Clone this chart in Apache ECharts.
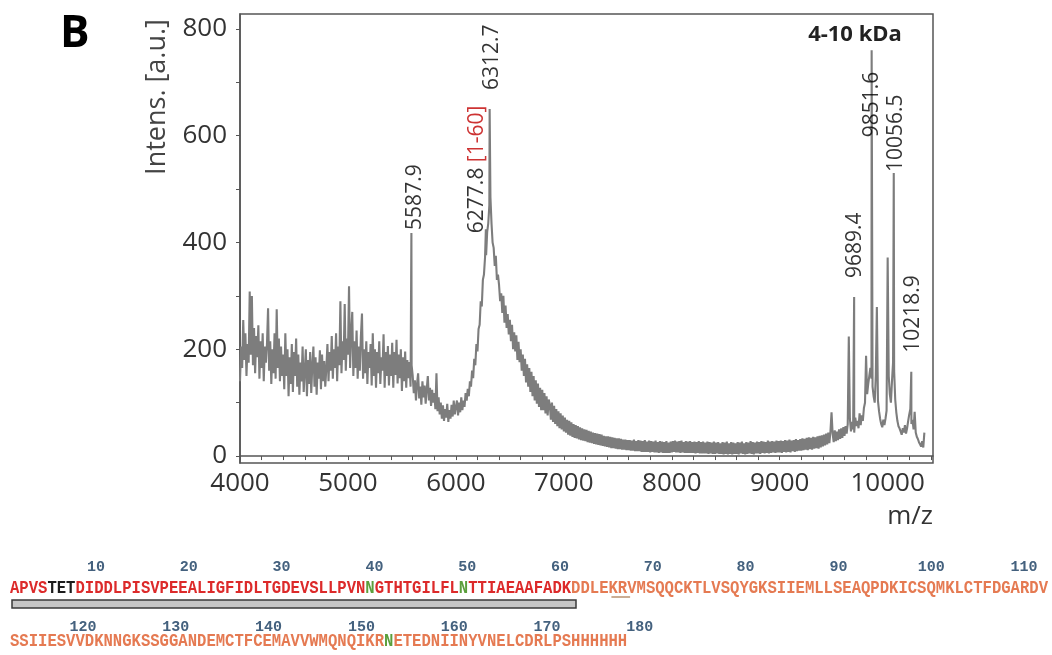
<!DOCTYPE html>
<html>
<head>
<meta charset="utf-8">
<script src="https://cdn.jsdelivr.net/npm/echarts@6/dist/echarts.min.js"></script>
<style>
  html, body { margin: 0; padding: 0; background: #fff; }
  #chart { width: 1052px; height: 655px; }
</style>
</head>
<body>
<div id="chart"></div>
<script>
// MALDI spectrum, 4-10 kDa window: intensity sampled every 10 Da from 4000 m/z
// (one row = 200 Da)
const specStart = 4000;
const specStep = 10;
const specIntensity = [
  140, 205, 165, 255, 180, 230, 150, 210, 175, 308, 190, 300, 170, 240, 155, 225, 185, 245, 145, 215,
  165, 230, 140, 205, 175, 210, 277, 160, 215, 135, 200, 155, 230, 145, 275, 165, 220, 140, 205, 150,
  190, 125, 230, 150, 200, 112, 185, 135, 210, 120, 195, 150, 220, 130, 190, 115, 175, 140, 205, 120,
  160, 200, 112, 180, 135, 195, 118, 170, 205, 130, 185, 115, 175, 145, 198, 125, 190, 140, 178, 130,
  165, 210, 140, 195, 160, 225, 145, 200, 165, 230, 140, 205, 170, 290, 155, 215, 180, 285, 160, 220,
  190, 318, 165, 230, 270, 150, 215, 165, 235, 145, 205, 160, 225, 267, 145, 200, 155, 215, 135, 195,
  165, 210, 132, 230, 150, 200, 128, 195, 155, 215, 135, 185, 160, 228, 128, 195, 150, 206, 132, 190,
  150, 212, 128, 195, 152, 218, 136, 190, 146, 200, 122, 185, 140, 196, 128, 180, 146, 176, 130, 170,
  150, 118, 142, 104, 135, 155, 108, 130, 96, 140, 110, 132, 98, 126, 150, 104, 128, 94, 124, 100,
  118, 88, 155, 84, 110, 78, 100, 70, 95, 66, 88, 72, 98, 64, 86, 70, 96, 74, 104, 78,
  92, 104, 76, 100, 82, 110, 86, 104, 92, 118, 104, 126, 112, 140, 130, 160, 146, 182, 170, 210,
  196, 238, 246, 290, 280, 330, 340, 372, 376, 420, 436, 470, 485, 436, 400, 390, 356, 375, 330, 340,
  320, 290, 305, 268, 300, 250, 282, 240, 266, 228, 255, 215, 246, 200, 232, 196, 226, 180, 214, 176,
  200, 160, 190, 150, 182, 138, 172, 130, 165, 120, 158, 112, 150, 104, 142, 98, 136, 92, 128, 86,
  124, 86, 118, 80, 112, 76, 106, 96, 68, 100, 64, 94, 60, 88, 56, 84, 52, 80, 50, 76,
  46, 72, 44, 68, 40, 66, 38, 63, 36, 60, 34, 58, 33, 56, 31, 54, 30, 52, 29, 50,
  28, 49, 26, 47, 25, 46, 24, 44, 23, 43, 22, 42, 21, 41, 20, 40, 19, 38, 18, 37,
  17, 37, 16, 36, 15, 35, 15, 34, 14, 33, 13, 33, 13, 32, 12, 31, 12, 31, 11, 30,
  11, 30, 10, 29, 10, 31, 9, 28, 9, 30, 9, 29, 8, 28, 8, 30, 8, 27, 8, 29,
  7, 28, 8, 27, 7, 29, 7, 26, 6, 28, 7, 27, 6, 26, 6, 28, 6, 25, 6, 27,
  7, 28, 8, 29, 7, 27, 7, 28, 6, 29, 7, 26, 6, 28, 6, 27, 6, 28, 6, 26,
  6, 27, 5, 26, 6, 28, 5, 26, 5, 27, 5, 25, 5, 27, 4, 26, 5, 25, 4, 27,
  4, 25, 5, 26, 4, 24, 4, 26, 3, 25, 4, 27, 3, 24, 4, 26, 3, 25, 4, 24,
  4, 26, 3, 25, 5, 27, 4, 24, 3, 26, 4, 25, 5, 28, 4, 26, 3, 25, 5, 27,
  5, 26, 4, 28, 6, 27, 5, 26, 6, 29, 5, 27, 6, 28, 7, 27, 6, 29, 7, 28,
  7, 29, 6, 28, 8, 30, 7, 29, 8, 31, 7, 29, 9, 30, 8, 32, 9, 30, 10, 32,
  10, 33, 11, 32, 12, 34, 11, 35, 13, 34, 12, 36, 14, 35, 15, 37, 14, 38, 16, 39,
  18, 40, 20, 42, 22, 44, 24, 46, 82, 42, 26, 48, 28, 46, 30, 50, 32, 52, 34, 54,
  38, 56, 42, 60, 224, 70, 46, 64, 50, 44, 72, 56, 66, 52, 80, 58, 76, 66, 90, 100,
  188, 116, 135, 150, 165, 145, 130, 112, 100, 150, 279, 104, 84, 70, 60, 54, 68, 58, 70, 85,
  372, 150, 116, 100, 140, 175, 160, 106, 82, 66, 56, 52, 46, 40, 52, 44, 58, 42, 52, 66,
  78, 88, 60, 68, 50, 83, 44, 36, 32, 26, 22, 18, 28, 16, 44
];

// annotated peaks
const peakMz = [5587.9, 6277.8, 6312.7, 9689.4, 9851.6, 10056.5, 10218.9];
const peakHeight = [418, 425, 650, 298, 760, 530, 158];
const peakTag = ['', '[1-60]', '', '', '', '', ''];

// axis labels
const xTickLabels = [4000, 5000, 6000, 7000, 8000, 9000, 10000];
const yTickLabels = [0, 200, 400, 600, 800];

// protein sequence, residues 1-111 and 112-177
const seqLine1 = 'APVSTETDIDDLPISVPEEALIGFIDLTGDEVSLLPVNNGTHTGILFLNTTIAEAAFADKDDLEKRVMSQQCKTLVSQYGKSIIEMLLSEAQPDKICSQMKLCTFDGARDV';
const seqLine2 = 'SSIIESVVDKNNGKSSGGANDEMCTFCEMAVVWMQNQIKRNETEDNIINYVNELCDRLPSHHHHHH';
const seqLine2Start = 112;
const fragmentEnd = 60;
const darkResidues = [5, 6, 7];
const glycoSites = [39, 49, 152];
const underlined = [65, 66];
const numbersLine1 = [10, 20, 30, 40, 50, 60, 70, 80, 90, 100, 110];
const numbersLine2 = [120, 130, 140, 150, 160, 170, 180];

// ---- build spectrum series data (grid samples + annotated peak apexes) ----
const spectrum = specIntensity.map((v, i) => [specStart + i * specStep, v]);
peakMz.forEach((mz, i) => spectrum.push([mz, peakHeight[i]]));
spectrum.sort((a, b) => a[0] - b[0]);

// label placement tweaks, in the rotated text frame: [along text (up), across (right)]
const labelNudge = [[3, 4], [-4, -9], [19, 2], [19, 1], [-87, 0], [1, 2], [19, 2]];
const peakPoints = peakMz.map((mz, i) => ({
  value: [mz, peakHeight[i]],
  label: { offset: labelNudge[i] }
}));

const minorX = [];
for (let v = 4000; v <= 10400; v += 200) minorX.push(v);
const minorY = [];
for (let v = 0; v <= 800; v += 100) minorY.push(v);

// ---- sequence as rich text ----
function residueClass(pos) {
  if (glycoSites.includes(pos)) return 'g';
  if (darkResidues.includes(pos)) return 'k';
  if (pos <= fragmentEnd) return 'r';
  return 'o';
}
function richSequence(seq, start) {
  let out = '', cur = null, buf = '';
  for (let i = 0; i < seq.length; i++) {
    const c = residueClass(start + i);
    if (c !== cur && buf) { out += '{' + cur + '|' + buf + '}'; buf = ''; }
    cur = c; buf += seq[i];
  }
  if (buf) out += '{' + cur + '|' + buf + '}';
  return out;
}
const seqFont = '"Liberation Mono", monospace';
const seqRich = {
  r: { fill: '#dc2a2a', fontSize: 18, fontWeight: 'bold', fontFamily: seqFont },
  k: { fill: '#1c1c1c', fontSize: 18, fontWeight: 'bold', fontFamily: seqFont },
  g: { fill: '#5b9f3c', fontSize: 18, fontWeight: 'bold', fontFamily: seqFont },
  o: { fill: '#e57a52', fontSize: 18, fontWeight: 'bold', fontFamily: seqFont }
};
const seqX = 10, charW = 9.35, seqScaleX = charW / (18 * 0.6);
const numPitch = 9.28;

const graphics = [];
graphics.push({ type: 'text', x: 60, y: 34, style: { text: 'B', font: 'bold 44px "Open Sans"', fill: '#000', verticalAlign: 'middle' } });
graphics.push({ type: 'text', x: 157, y: 97, rotation: Math.PI / 2,
  style: { text: 'Intens. [a.u.]', font: '27px "Open Sans"', fill: '#444', align: 'center', verticalAlign: 'middle' } });
graphics.push({ type: 'text', x: 933, y: 517,
  style: { text: 'm/z', font: '26px "Open Sans"', fill: '#333', align: 'right', verticalAlign: 'middle' } });
graphics.push({ type: 'text', x: 855, y: 35,
  style: { text: '4-10 kDa', font: 'bold 22px "Open Sans"', fill: '#222', align: 'center', verticalAlign: 'middle' } });

// residue numbering
numbersLine1.forEach(n => graphics.push({ type: 'text', x: 96 + (n - 10) * numPitch, y: 567,
  style: { text: String(n), font: 'bold 15px "Liberation Mono"', fill: '#44617e', align: 'center', verticalAlign: 'middle' } }));
numbersLine2.forEach(n => graphics.push({ type: 'text', x: 83 + (n - 120) * numPitch, y: 627,
  style: { text: String(n), font: 'bold 15px "Liberation Mono"', fill: '#44617e', align: 'center', verticalAlign: 'middle' } }));

// sequence lines
graphics.push({ type: 'text', x: seqX, y: 588, scaleX: seqScaleX,
  style: { text: richSequence(seqLine1, 1), rich: seqRich, font: 'bold 18px ' + seqFont, verticalAlign: 'middle' } });
graphics.push({ type: 'text', x: seqX, y: 641, scaleX: seqScaleX,
  style: { text: richSequence(seqLine2, seqLine2Start), rich: seqRich, font: 'bold 18px ' + seqFont, verticalAlign: 'middle' } });

// bar under the detected fragment, underline under KR
graphics.push({ type: 'rect', shape: { x: seqX + 2, y: 600, width: fragmentEnd * charW + 3, height: 8 },
  style: { fill: '#c6c6c6', stroke: '#3a3a3a', lineWidth: 1.5 } });
graphics.push({ type: 'line', shape: { x1: seqX + (underlined[0] - 1) * charW + 3, y1: 597, x2: seqX + underlined[underlined.length - 1] * charW + 3, y2: 597 },
  style: { stroke: '#b89270', lineWidth: 1.5 } });

const chart = echarts.init(document.getElementById('chart'));
chart.setOption({
  animation: false,
  backgroundColor: '#ffffff',
  grid: { left: 240, right: 119, top: 14, bottom: 192, show: true, borderColor: '#555', borderWidth: 1.5 },
  xAxis: {
    type: 'value', min: 4000, max: 10420,
    axisLine: { lineStyle: { color: '#555', width: 1.5 } },
    axisTick: { customValues: minorX, length: 4, lineStyle: { color: '#555' } },
    axisLabel: { customValues: xTickLabels, fontSize: 26, color: '#333', fontFamily: 'Open Sans', margin: 8,
      formatter: v => String(v) },
    splitLine: { show: false }
  },
  yAxis: {
    type: 'value', min: -13, max: 828,
    axisLine: { show: true, lineStyle: { color: '#555', width: 1.5 } },
    axisTick: { show: true, customValues: minorY, length: 4, lineStyle: { color: '#555' } },
    axisLabel: { customValues: yTickLabels, fontSize: 26, color: '#333', fontFamily: 'Open Sans', margin: 13,
      formatter: v => String(v) },
    splitLine: { show: false }
  },
  series: [
    {
      type: 'line', data: spectrum, showSymbol: false, symbol: 'none',
      lineStyle: { color: '#7d7d7d', width: 2.1 }, z: 2
    },
    {
      type: 'scatter', data: peakPoints, symbolSize: 0, z: 3,
      label: {
        show: true, position: 'top', distance: 0, rotate: 90,
        align: 'left', verticalAlign: 'middle',
        fontSize: 21, fontFamily: 'Open Sans', color: '#000',
        formatter: p => peakTag[p.dataIndex]
          ? '{v|' + peakMz[p.dataIndex].toFixed(1) + '} {t|' + peakTag[p.dataIndex] + '}'
          : peakMz[p.dataIndex].toFixed(1),
        rich: {
          v: { fontSize: 21, fontFamily: 'Open Sans', color: '#000' },
          t: { fontSize: 21, fontFamily: 'Open Sans', color: '#c00000' }
        }
      }
    }
  ],
  graphic: graphics
});
</script>
</body>
</html>
